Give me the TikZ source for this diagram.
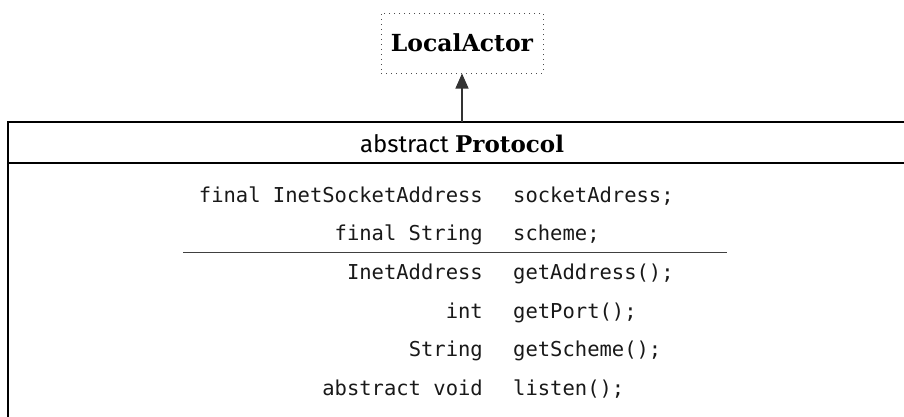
\documentclass[tikz,border=0pt]{standalone}
\usepackage{fontspec}
\setmonofont{DejaVu Sans Mono}
\newfontfamily\slabfont{DejaVu Serif}
\newfontfamily\lightsans{Fira Sans}
\usetikzlibrary{arrows.meta}
\tikzset{
  frameline/.style={line width=1.6pt, black},
  typecell/.style={anchor=base east, inner sep=0pt, font=\ttfamily\fontsize{20.5}{24}\selectfont, text=black!90},
  namecell/.style={anchor=base west, inner sep=0pt, font=\ttfamily\fontsize{20.5}{24}\selectfont, text=black!90},
  superbox/.style={draw=black!70, line width=1pt, dash pattern=on 1pt off 4pt, minimum width=162pt, minimum height=60pt, inner sep=0pt, font=\slabfont\bfseries\fontsize{23.5}{28}\selectfont},
  inherit/.style={draw=black!80, line width=1.3pt, -{Triangle[length=15pt,width=13pt]}},
}
\begin{document}
\begin{tikzpicture}[x=1pt,y=-1pt]
\useasboundingbox (0,0) rectangle (904,416);
\clip (0,0) rectangle (904,416);
\fill[white] (0,0) rectangle (904,416);
% class frame
\draw[frameline] (8,122) rectangle (912,430);
\draw[frameline] (8,162.7) -- (912,162.7);
\node[inner sep=0pt, anchor=base] (header) at (462,152) {\lightsans\fontsize{24}{28}\selectfont abstract \slabfont\bfseries\fontsize{23}{27}\selectfont Protocol};
% super class
\node[superbox] (local) at (462,43) {LocalActor};
\coordinate (ptop) at (462,122);
\draw[inherit] (ptop) -- (local.south);
% fields
\node[typecell] (t1) at (483,202) {final InetSocketAddress};
\node[namecell] (n1) at (513,202) {socketAdress;};
\node[typecell] (t2) at (483,240) {final String};
\node[namecell] (n2) at (513,240) {scheme;};
\coordinate (dl) at (183,252.7);
\coordinate (dr) at (727,252.7);
\draw[line width=1.2pt, black!75] (dl) -- (dr);
% methods
\node[typecell] (t3) at (483,279) {InetAddress};
\node[namecell] (n3) at (513,279) {getAddress();};
\node[typecell] (t4) at (483,318) {int};
\node[namecell] (n4) at (513,318) {getPort();};
\node[typecell] (t5) at (483,356) {String};
\node[namecell] (n5) at (513,356) {getScheme();};
\node[typecell] (t6) at (483,395) {abstract void};
\node[namecell] (n6) at (513,395) {listen();};
\end{tikzpicture}
\end{document}
